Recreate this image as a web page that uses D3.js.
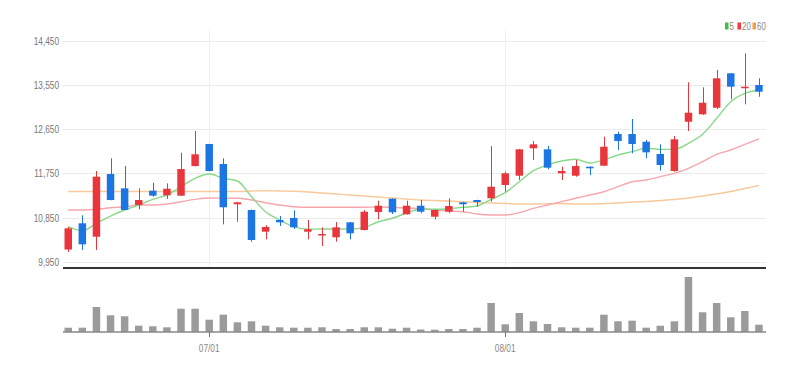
<!DOCTYPE html>
<html><head><meta charset="utf-8">
<script src="https://cdn.jsdelivr.net/npm/d3@7"></script>
<style>html,body{margin:0;padding:0;background:#fff;}svg{display:block;}</style>
</head><body>
<svg id="chart" width="806" height="373"></svg>
<script>
const dates = ["06/17","06/18","06/19","06/20","06/21","06/24","06/25","06/26","06/27","06/28",
"07/01","07/02","07/03","07/04","07/05","07/08","07/09","07/10","07/11","07/12","07/15","07/16","07/17","07/18","07/19","07/22","07/23","07/24","07/25","07/26","07/29",
"08/01","08/02","08/05","08/06","08/07","08/08","08/09","08/12","08/13","08/14","08/16","08/19","08/20","08/21","08/22","08/23","08/26","08/27","08/28"];
const openV  = [10198,10732,10459,11736,11444,11104,11396,11302,11294,11898,12346,11939,11119,11003,10561,10799,10840,10561,10488,10447,10752,10595,10962,11233,10915,11090,10866,10968,11159,11206,11241,11512,11701,12259,12238,11750,11701,11884,11905,12550,12550,12393,12143,11797,12800,12951,13085,13786,13493,13548];
const highV  = [10657,10895,11797,12055,11898,11444,11558,11546,12169,12611,12350,12055,11170,11010,10691,10880,10996,10799,10650,10758,10760,11003,11192,11240,11192,11206,11010,11241,11165,11210,12306,11782,12245,12407,12306,11884,12020,11890,12495,12597,12855,12428,12340,12509,13603,13501,13853,13790,14193,13684];
const lowV   = [10147,10188,10188,11200,11000,11017,11273,11227,11290,11890,11790,10711,10764,10357,10406,10677,10616,10406,10270,10357,10406,10590,10813,10921,10910,10935,10813,10935,10968,11070,11172,11375,11613,12020,11831,11613,11680,11715,11900,12224,12157,12055,11803,11782,12611,12937,13059,13256,13155,13309];
const closeV = [10630,10304,11681,11206,11003,11206,11294,11436,11837,12137,11797,11058,11159,10392,10657,10752,10650,10610,10514,10650,10528,10968,11090,10956,11090,10968,11003,11084,11119,11165,11477,11750,12238,12340,11864,11797,11898,11852,12291,12407,12346,12177,11919,12442,12984,13187,13684,13513,13513,13411];
const volumeV = [43000,43000,250000,167000,157000,63000,57000,47000,233000,233000,123000,173000,97000,107000,63000,47000,43000,43000,47000,30000,30000,47000,47000,33000,43000,25000,23000,30000,30000,43000,290000,77000,190000,107000,80000,47000,43000,43000,173000,107000,113000,43000,63000,107000,550000,197000,290000,147000,210000,73000];
const ma5  = [10663,10581,10732,10880,11003,11104,11220,11308,11477,11648,11736,11648,11593,11273,10968,10799,10663,10610,10616,10616,10616,10650,10764,10834,10942,11023,11017,11029,11058,11084,11220,11355,11579,11803,11919,12000,12035,11960,12021,12122,12190,12259,12238,12238,12361,12544,12870,13208,13379,13446];
const ma20 = [11003,11003,11017,11049,11070,11104,11104,11125,11172,11220,11247,11241,11241,11206,11151,11104,11070,11058,11058,11058,11058,11058,11064,11058,11043,11033,11003,10982,10968,10921,10901,10901,10948,11037,11104,11172,11241,11308,11375,11477,11579,11613,11681,11750,11852,11986,12137,12224,12340,12448];
const ma60 = [11379,11379,11379,11379,11379,11379,11379,11379,11379,11379,11379,11379,11379,11389,11396,11389,11383,11369,11349,11328,11308,11288,11267,11247,11227,11206,11196,11186,11172,11155,11145,11135,11125,11125,11129,11135,11125,11125,11135,11145,11165,11176,11196,11217,11247,11288,11328,11379,11440,11501];
const priceTicks = [9950,10850,11750,12650,13550,14450];
const xTickLabels = ["07/01","08/01"];
const legendLabels = ["5","20","60"];
const legendColors = ["#3cc43c","#ef3b45","#f5a03c"];
const maColors = ["#8ad88a","#f6a7ad","#f8c999"];
const upColor = "#e8363c", downColor = "#1b76e4";

const svg = d3.select("#chart");
const left = 61.2, right = 766;
const x = d3.scaleBand().domain(dates).range([left, right]).paddingInner(0.47).paddingOuter(0.235);
const cx = d => x(d) + x.bandwidth()/2;
const y = d3.scaleLinear().domain([9950,14450]).range([261.7,40.7]);
const yv = d3.scaleLinear().domain([0,550000]).range([332,277]);
const priceBottom = 268, volBase = 332;

const font = "'Liberation Sans Narrow','Liberation Sans',Arial,sans-serif";

// horizontal grid
svg.append("g").selectAll("line").data(priceTicks).join("line")
  .attr("x1", 63).attr("x2", right).attr("y1", d=>Math.round(y(d))+0.5).attr("y2", d=>Math.round(y(d))+0.5)
  .attr("stroke", "#ebebeb").attr("stroke-width", 1);
// vertical grid
svg.append("g").selectAll("line").data(xTickLabels).join("line")
  .attr("x1", d=>Math.round(cx(d))+0.5).attr("x2", d=>Math.round(cx(d))+0.5)
  .attr("y1", 30).attr("y2", priceBottom).attr("stroke", "#f0f0f0");

// y labels
svg.append("g").selectAll("text").data(priceTicks).join("text")
  .attr("transform", d=>`translate(59,${y(d)+4}) scale(0.72,1)`)
  .attr("text-anchor","end").attr("font-family", font).attr("font-size", 11.5)
  .attr("fill", "#777").text(d=>d3.format(",")(d));

// MA lines
const maData = [ma60, ma20, ma5];
const maCols = [maColors[2], maColors[1], maColors[0]];
maData.forEach((arr,k)=>{
  svg.append("path").datum(arr)
    .attr("d", d3.line().x((d,i)=>cx(dates[i])).y(d=>y(d)).curve(d3.curveMonotoneX))
    .attr("fill","none").attr("stroke", maCols[k]).attr("stroke-width", 1.4);
});

// candles
const idx = d3.range(dates.length);
const cg = svg.append("g");
cg.selectAll("line").data(idx).join("line")
  .attr("x1", i=>Math.round(cx(dates[i]))+0.5).attr("x2", i=>Math.round(cx(dates[i]))+0.5)
  .attr("y1", i=>y(highV[i])).attr("y2", i=>y(lowV[i]))
  .attr("stroke", i=> closeV[i]>=openV[i]?upColor:downColor).attr("stroke-width",1);
cg.selectAll("rect").data(idx).join("rect")
  .attr("x", i=>x(dates[i])).attr("width", x.bandwidth())
  .attr("y", i=>y(Math.max(openV[i],closeV[i])))
  .attr("height", i=>Math.max(1.5, Math.abs(y(openV[i])-y(closeV[i]))))
  .attr("fill", i=> closeV[i]>=openV[i]?upColor:downColor);

// price bottom line
svg.append("line").attr("x1", 63).attr("x2", right).attr("y1", priceBottom).attr("y2", priceBottom)
  .attr("stroke","#333").attr("stroke-width",2);

// volume bars
svg.append("g").selectAll("rect").data(idx).join("rect")
  .attr("x", i=>x(dates[i])).attr("width", x.bandwidth())
  .attr("y", i=>yv(volumeV[i])).attr("height", i=>volBase - yv(volumeV[i]))
  .attr("fill", "#9b9b9b");
svg.append("line").attr("x1", 63).attr("x2", right).attr("y1", volBase).attr("y2", volBase)
  .attr("stroke","#888").attr("stroke-width",1.5);

// x ticks
const xt = svg.append("g");
xt.selectAll("line").data(xTickLabels).join("line")
  .attr("x1", d=>Math.round(cx(d))+0.5).attr("x2", d=>Math.round(cx(d))+0.5)
  .attr("y1", volBase).attr("y2", volBase+5).attr("stroke","#777");
xt.selectAll("text").data(xTickLabels).join("text")
  .attr("transform", d=>`translate(${cx(d)},${352}) scale(0.72,1)`)
  .attr("text-anchor","middle").attr("font-family", font).attr("font-size", 11.5)
  .attr("fill","#888").text(d=>d);

// legend
const lg = svg.append("g");
const legX = [725, 737.5, 752.5];
legendLabels.forEach((t,k)=>{
  lg.append("rect").attr("x", legX[k]).attr("y", 22.5).attr("width", 3.5).attr("height", 7).attr("fill", legendColors[k]);
  lg.append("text").attr("transform", `translate(${legX[k]+4.5},30) scale(0.72,1)`)
    .attr("font-family", font).attr("font-size", 11).attr("fill","#888").text(t);
});
</script>
</body></html>
